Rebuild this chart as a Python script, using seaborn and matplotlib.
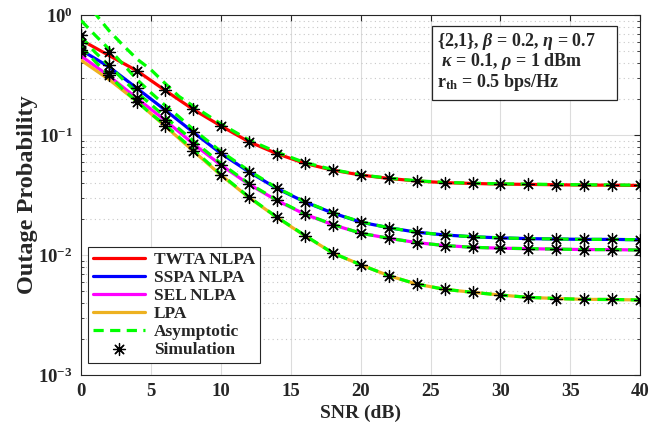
import numpy as np
import pandas as pd
import matplotlib
matplotlib.use("Agg")
import matplotlib.pyplot as plt
import seaborn as sns
from matplotlib.patches import Rectangle
from matplotlib.ticker import LogLocator, NullFormatter

# ---- data -------------------------------------------------------------
snr_db = [0, 2, 4, 6, 8, 10, 12, 14, 16, 18, 20, 22, 24, 26, 28, 30, 32, 34, 36, 38, 40]

twta_nlpa = [0.62, 0.46, 0.343, 0.236, 0.164, 0.119, 0.088, 0.070, 0.058, 0.051, 0.0464,
             0.0435, 0.0414, 0.0401, 0.0395, 0.0390, 0.0388, 0.0385, 0.0383, 0.0382, 0.0380]
sspa_nlpa = [0.51, 0.37, 0.245, 0.162, 0.106, 0.0703, 0.0494, 0.0359, 0.0277, 0.0224, 0.0188,
             0.0169, 0.0155, 0.0147, 0.0142, 0.0139, 0.0137, 0.0136, 0.0135, 0.0135, 0.0134]
sel_nlpa = [0.455, 0.31, 0.202, 0.133, 0.085, 0.0562, 0.0389, 0.0285, 0.0219, 0.0179, 0.0152,
            0.0138, 0.0127, 0.0120, 0.0116, 0.0114, 0.0113, 0.0112, 0.0111, 0.0111, 0.0110]
lpa = [0.42, 0.29, 0.19, 0.119, 0.074, 0.0464, 0.0302, 0.0206, 0.0145, 0.0104, 0.0083,
       0.00673, 0.00573, 0.00518, 0.00489, 0.00464, 0.00444, 0.00434, 0.00427, 0.00426, 0.00422]

# simulated points (differ from the analysis only at low SNR)
twta_sim = [0.68, 0.49] + twta_nlpa[2:]
sspa_sim = [0.58, 0.383] + sspa_nlpa[2:]
sel_sim = [0.51, 0.327] + sel_nlpa[2:]
lpa_sim = [0.49, 0.316] + lpa[2:]

asym_snr = [0, 1, 2, 3, 4, 5, 6, 7, 8, 10, 12, 14, 16, 18, 20, 22, 24, 26, 28, 30, 32, 34, 36, 38, 40]
twta_asym = [1.35, 1.03, 0.74, 0.56, 0.43, 0.35, 0.27, 0.21, 0.175, 0.124, 0.091, 0.072, 0.059,
             0.0515, 0.0466, 0.0437, 0.0416, 0.0403, 0.0397, 0.0392, 0.0390, 0.0387, 0.0385, 0.0384, 0.0382]
sspa_asym = [0.90, 0.68, 0.52, 0.39, 0.29, 0.225, 0.177, 0.142, 0.112, 0.073, 0.0505, 0.0363, 0.0279,
             0.0225, 0.0189, 0.0169, 0.0155, 0.0147, 0.0142, 0.0139, 0.0137, 0.0136, 0.0135, 0.0135, 0.0134]
sel_asym = [0.66, 0.49, 0.38, 0.29, 0.225, 0.18, 0.142, 0.113, 0.090, 0.058, 0.0395, 0.0288, 0.0220,
            0.0180, 0.0152, 0.0138, 0.0127, 0.0120, 0.0116, 0.0114, 0.0113, 0.0112, 0.0111, 0.0111, 0.0110]
lpa_asym = [0.55, 0.41, 0.315, 0.24, 0.19, 0.15, 0.122, 0.096, 0.076, 0.047, 0.0305, 0.0207, 0.0146,
            0.0104, 0.0083, 0.00673, 0.00573, 0.00518, 0.00489, 0.00464, 0.00444, 0.00434, 0.00427,
            0.00426, 0.00422]

series_names = ["TWTA NLPA", "SSPA NLPA", "SEL NLPA", "LPA"]
series_colors = ["#ff0000", "#0000ff", "#ff00ff", "#edb120"]
exact = [twta_nlpa, sspa_nlpa, sel_nlpa, lpa]
asym = [twta_asym, sspa_asym, sel_asym, lpa_asym]
sim = [twta_sim, sspa_sim, sel_sim, lpa_sim]

x_ticks = [0, 5, 10, 15, 20, 25, 30, 35, 40]
y_ticks = [1e-3, 1e-2, 1e-1, 1e0]
y_tick_labels = [r"$\mathbf{10^{-3}}$", r"$\mathbf{10^{-2}}$", r"$\mathbf{10^{-1}}$", r"$\mathbf{10^{0}}$"]

param_lines = [r"{2,1}, $\beta$ = 0.2, $\eta$ = 0.7",
               r" $\kappa$ = 0.1, $\rho$ = 1 dBm",
               r"r$_{\mathbf{th}}$ = 0.5 bps/Hz"]

# ---- style ------------------------------------------------------------
sns.set_style("white")
plt.rcParams.update({
    "font.family": ["Liberation Serif", "DejaVu Serif"],
    "font.weight": "bold",
    "mathtext.fontset": "custom",
    "mathtext.rm": "Liberation Serif:bold",
    "mathtext.it": "Liberation Serif:italic:bold",
    "mathtext.bf": "Liberation Serif:bold",
})

fig = plt.figure(figsize=(6.54, 4.25), dpi=100)
ax = fig.add_axes([0.124, 0.1176, 0.855, 0.847])
ax.set_yscale("log")

# analytical curves
for name, col, vals in zip(series_names, series_colors, exact):
    df = pd.DataFrame({"snr": snr_db, "p": vals})
    sns.lineplot(data=df, x="snr", y="p", ax=ax, color=col, lw=2.3, label=name, zorder=3)

# asymptotic curves
for i, vals in enumerate(asym):
    df = pd.DataFrame({"snr": asym_snr, "p": vals})
    sns.lineplot(data=df, x="snr", y="p", ax=ax, color="#00ff00", lw=2.3,
                 label="Asymptotic" if i == 0 else None, zorder=4)
for line in ax.get_lines()[4:]:
    line.set_dashes((3.2, 2.0))

# simulation points
for i, vals in enumerate(sim):
    df = pd.DataFrame({"snr": snr_db, "p": vals})
    sns.scatterplot(data=df, x="snr", y="p", ax=ax, marker=(8, 2, 0), s=75, color="black",
                    linewidth=0.9, edgecolor="black", label="Simulation" if i == 0 else None,
                    zorder=5)

# ---- axes -------------------------------------------------------------
ax.set_xlim(0, 40)
ax.set_ylim(1e-3, 1)
ax.set_xticks(x_ticks)
ax.set_xticklabels([str(t) for t in x_ticks])
ax.set_yticks(y_ticks)
ax.set_yticklabels(y_tick_labels)
ax.yaxis.set_minor_locator(LogLocator(base=10, subs=np.arange(2, 10), numticks=20))
ax.yaxis.set_minor_formatter(NullFormatter())

ax.tick_params(axis="both", which="major", direction="in", length=4.5, width=0.8,
               top=True, right=True, labelsize=13.5, colors="#262626", pad=6)
ax.tick_params(axis="y", which="minor", direction="in", length=2.5, width=0.6,
               left=True, right=True)
for lbl in ax.get_xticklabels() + ax.get_yticklabels():
    lbl.set_fontweight("bold")
    lbl.set_color("#262626")

ax.grid(True, which="major", color="#dcdcdc", lw=0.8, ls="-")
ax.grid(True, which="minor", axis="y", color="#c8c8c8", lw=0.8, ls=(0, (1, 3)))
ax.set_axisbelow(True)
for sp in ax.spines.values():
    sp.set_color("#262626")
    sp.set_linewidth(0.8)

ax.set_xlabel("SNR (dB)", fontsize=14, fontweight="bold", labelpad=3)
ax.set_ylabel("Outage Probability", fontsize=17.5, fontweight="bold", labelpad=0)

# ---- legend -----------------------------------------------------------
handles, labels = ax.get_legend_handles_labels()
order = ["TWTA NLPA", "SSPA NLPA", "SEL NLPA", "LPA", "Asymptotic", "Simulation"]
hmap = dict(zip(labels, handles))
leg = ax.legend([hmap[k] for k in order], order, loc="lower left",
                bbox_to_anchor=(0.0125, 0.033), prop={"weight": "bold", "size": 12.5},
                handlelength=3.0, handletextpad=0.5, borderpad=0.3, labelspacing=0.1,
                frameon=True, fancybox=False, framealpha=1, edgecolor="#262626",
                borderaxespad=0)
leg.get_frame().set_linewidth(0.8)

# ---- parameter box ----------------------------------------------------
ax.add_patch(Rectangle((0.628, 0.764), 0.331, 0.2054, transform=ax.transAxes,
                       facecolor="white", edgecolor="#262626", lw=0.9, zorder=6))
ax.text(0.636, 0.955, "\n".join(param_lines), transform=ax.transAxes,
        fontsize=13, fontweight="bold", va="top", ha="left", linespacing=0.95, zorder=7)

fig.savefig("out.png", dpi=100)
